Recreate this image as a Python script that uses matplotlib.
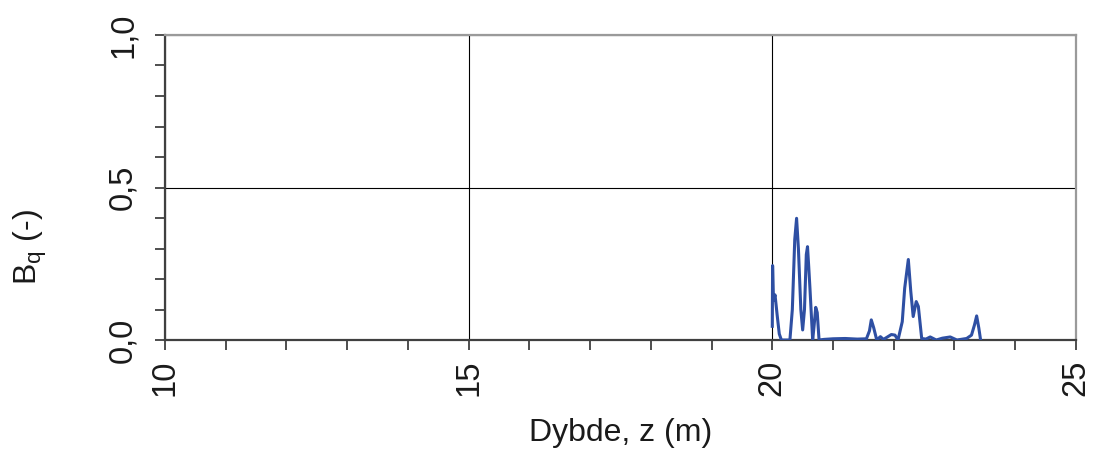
import matplotlib.pyplot as plt
from matplotlib.ticker import MultipleLocator, FuncFormatter

plt.rcParams['font.family'] = ['Liberation Sans', 'DejaVu Sans']

# depth (m) and Bq (-)
dybde = [20.00, 20.005, 20.02, 20.045, 20.06, 20.08, 20.115, 20.15, 20.29,
         20.33, 20.37, 20.40, 20.43, 20.47, 20.50, 20.53, 20.56, 20.58, 20.60,
         20.62, 20.665, 20.69, 20.715, 20.74, 20.77, 20.85, 21.0, 21.2, 21.4,
         21.55, 21.60, 21.63, 21.67, 21.72, 21.78, 21.83, 21.88, 21.96, 22.02,
         22.07, 22.14, 22.18, 22.24, 22.28, 22.32, 22.37, 22.405, 22.46, 22.53,
         22.60, 22.70, 22.80, 22.93, 23.04, 23.20, 23.28, 23.33, 23.365, 23.40,
         23.43]
bq = [0.045, 0.244, 0.13, 0.148, 0.12, 0.082, 0.02, 0.0, 0.0,
      0.10, 0.33, 0.399, 0.30, 0.10, 0.033, 0.10, 0.28, 0.306, 0.24,
      0.17, 0.0, 0.05, 0.107, 0.09, 0.0, 0.002, 0.004, 0.005, 0.003,
      0.004, 0.03, 0.066, 0.04, 0.0, 0.011, 0.002, 0.008, 0.018, 0.016,
      0.0, 0.06, 0.17, 0.264, 0.16, 0.077, 0.126, 0.11, 0.005, 0.003,
      0.01, 0.0, 0.006, 0.01, 0.0, 0.005, 0.016, 0.05, 0.079, 0.04,
      0.0]

fig = plt.figure(figsize=(10.94, 4.51), dpi=100)
ax = fig.add_axes([0.1508, 0.2461, 0.8327, 0.6763])

ax.plot(dybde, bq, color='#2E4FA3', lw=2.2, zorder=3)

ax.set_xlim(10, 25)
ax.set_ylim(0, 1)
ax.xaxis.set_major_locator(MultipleLocator(5))
ax.xaxis.set_minor_locator(MultipleLocator(1))
ax.yaxis.set_major_locator(MultipleLocator(0.5))
ax.yaxis.set_minor_locator(MultipleLocator(0.1))
ax.yaxis.set_major_formatter(FuncFormatter(lambda v, p: f'{v:.1f}'.replace('.', ',')))

ax.grid(True, which='major', color='black', lw=0.8)
ax.set_axisbelow(True)

for s in ['left', 'bottom']:
    ax.spines[s].set_color('#404040')
    ax.spines[s].set_linewidth(1.6)
for s in ['top', 'right']:
    ax.spines[s].set_color('#9a9a9a')
    ax.spines[s].set_linewidth(1.6)

ax.tick_params(which='both', direction='out', length=7, width=1.2,
               color='#303030', labelsize=23.5, labelcolor='#1a1a1a')
ax.tick_params(axis='x', pad=7)
ax.tick_params(axis='y', pad=12)
for lab in ax.get_xticklabels():
    lab.set_rotation(90)
for lab in ax.get_yticklabels():
    lab.set_rotation(90)
    lab.set_va('center')

ax.set_xlabel('Dybde, z (m)', fontsize=23, color='#1a1a1a', labelpad=16)
ax.set_ylabel(r'B$_\mathregular{q}$ (-)', fontsize=23, color='#1a1a1a', labelpad=42)
ax.yaxis.label.set_y(0.305)

fig.savefig('out.png', dpi=100)
